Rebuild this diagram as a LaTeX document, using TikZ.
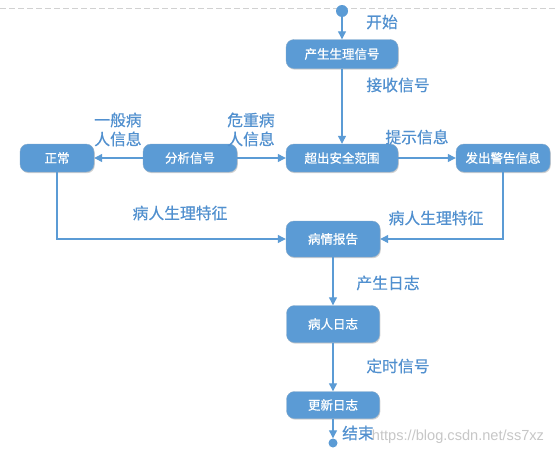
\documentclass[tikz,border=0pt]{standalone}
\usepackage{fontspec}
\setmainfont{Noto Sans CJK SC}
\newfontfamily\boxfont[FakeBold=0.8]{Noto Sans CJK SC}
\newfontfamily\lblfont[FakeBold=0.4]{Noto Sans CJK SC}
\newfontfamily\wmfont{Liberation Sans}
\usetikzlibrary{arrows.meta,shadows}
\definecolor{boxblue}{HTML}{5B9BD5}
\definecolor{lineblue}{HTML}{5B9BD5}
\definecolor{labelblue}{HTML}{5190CF}
\tikzset{
  flowbox/.style={draw=boxblue!85!black!70!white, line width=0.4pt, fill=boxblue, rounded corners=8pt,
    text=white, font=\boxfont\fontsize{12.5}{14}\selectfont, inner sep=0pt,
    drop shadow={shadow xshift=0.8pt, shadow yshift=-1.2pt, fill=black, opacity=0.18}},
  conn/.style={draw=lineblue, line width=1.2pt, -{Triangle[length=8pt,width=8pt]}},
  lbl/.style={text=labelblue, font=\lblfont\fontsize{15.8}{19}\selectfont, align=center, inner sep=0pt},
  dotnode/.style={circle, fill=boxblue, inner sep=0pt}
}
\begin{document}
\begin{tikzpicture}[x=1pt,y=-1pt]
\useasboundingbox (0,0) rectangle (556,455);
\fill[white] (0,0) rectangle (556,455);
\draw[black!18, dash pattern=on 6pt off 3pt, line width=0.6pt] (0,8.5) -- (556,8.5);

% nodes
\node[dotnode, minimum size=12pt] (start) at (342,11) {};
\node[flowbox, minimum width=112pt, minimum height=29pt] (p1) at (342,54) {产生生理信号};
\node[flowbox, minimum width=112pt, minimum height=28pt] (p2) at (342,158) {超出安全范围};
\node[flowbox, minimum width=94pt, minimum height=28pt] (warn) at (503,158) {发出警告信息};
\node[flowbox, minimum width=94pt, minimum height=28pt] (ana) at (190,158) {分析信号};
\node[flowbox, minimum width=74pt, minimum height=28pt] (norm) at (57,158) {正常};
\node[flowbox, minimum width=94pt, minimum height=36pt] (rep) at (333,239) {病情报告};
\node[flowbox, minimum width=93pt, minimum height=37pt] (log) at (333,324) {病人日志};
\node[flowbox, minimum width=93pt, minimum height=27pt] (upd) at (333,405) {更新日志};
\node[dotnode, minimum size=9pt] (end) at (333,443) {};

\coordinate (cl) at (norm.south |- rep.west);
\coordinate (cr) at (warn.south |- rep.east);

% connectors
\draw[conn] (start) -- (p1);
\draw[conn] (p1) -- (p2);
\draw[conn] (ana) -- (norm);
\draw[conn] (ana) -- (p2);
\draw[conn] (p2) -- (warn);
\draw[conn] (norm.south) -- (cl) -- (rep.west);
\draw[conn] (warn.south) -- (cr) -- (rep.east);
\draw[conn] (rep) -- (log);
\draw[conn] (log) -- (upd);
\draw[conn] (upd) -- (end);

% labels
\node[lbl] (l1) at (382,22) {开始};
\node[lbl] (l2) at (398,85) {接收信号};
\node[lbl] (l3) at (118,129.5) {一般病\\人信息};
\node[lbl] (l4) at (251,129.5) {危重病\\人信息};
\node[lbl] (l5) at (417,137) {提示信息};
\node[lbl] (l6) at (180,213) {病人生理特征};
\node[lbl] (l7) at (436,218) {病人生理特征};
\node[lbl] (l8) at (388,283) {产生日志};
\node[lbl] (l9) at (398,366) {定时信号};
\node[lbl] (l10) at (358,433) {结束};
\node[text=black!22, font=\wmfont\fontsize{14.6}{16}\selectfont, inner sep=0pt] (wm) at (458,437) {https://blog.csdn.net/ss7xz};
\end{tikzpicture}
\end{document}
